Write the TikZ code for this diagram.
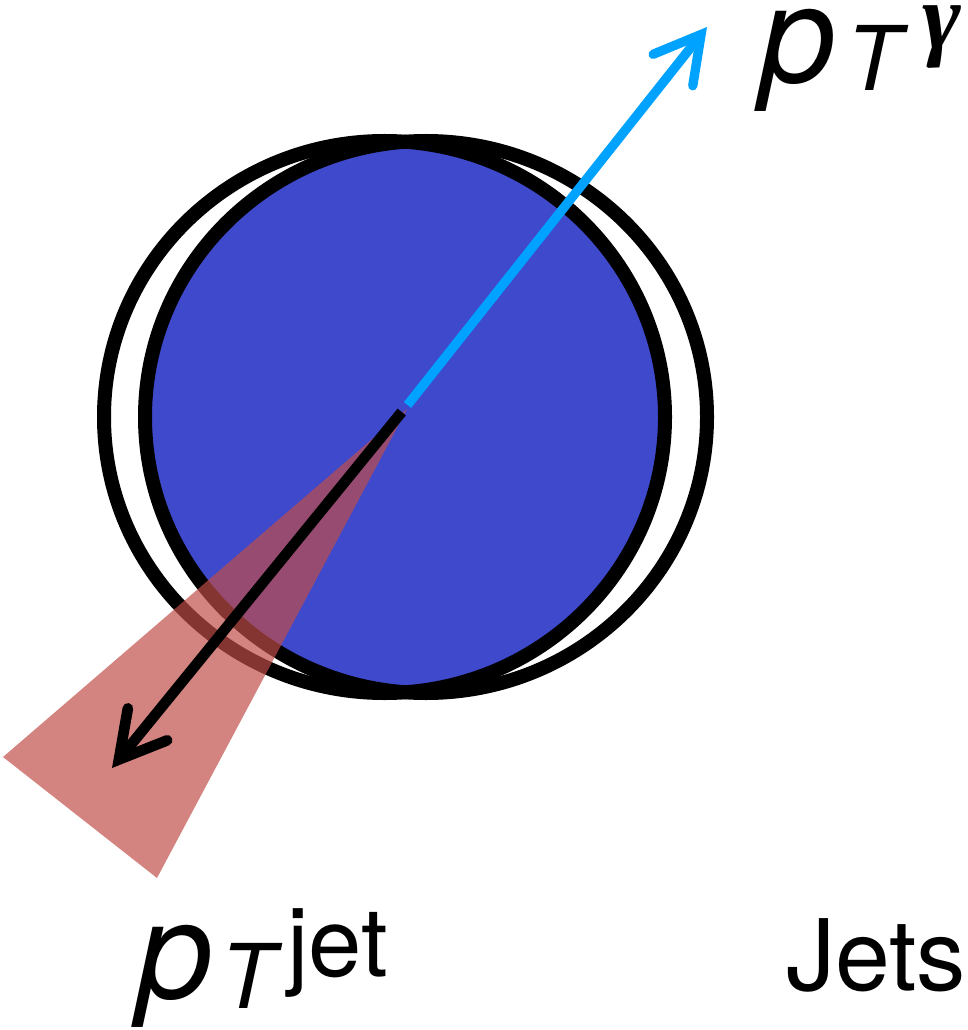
\documentclass[tikz,border=0pt]{standalone}
\usepackage{fontspec}
\setmainfont{TeX Gyre Heros}
\newfontfamily\gfont{Liberation Serif}
\usetikzlibrary{arrows.meta}
\definecolor{discblue}{RGB}{63,73,204}
\definecolor{photoncyan}{RGB}{0,162,255}
\definecolor{jetred}{RGB}{193,77,71}
\tikzset{
  ring/.style={draw=black, line width=10.5pt},
  barbtip/.style={-{Straight Barb[length=34pt,width=38pt,line cap=round,line join=miter]}},
  photon/.style={barbtip, draw=photoncyan, line width=7pt},
  jetarrow/.style={barbtip, draw=black, line width=8pt},
  cone/.style={fill=jetred, fill opacity=0.69},
  lbl/.style={anchor=base west, inner sep=0pt, outer sep=0pt}
}
\begin{document}
\begin{tikzpicture}[x=0.75pt, y=-0.75pt]
\useasboundingbox (0,0) rectangle (967,1030);
% disc: overlap of the two shifted rings
\begin{scope}
  \clip (384.5,417) ellipse [x radius=280.5, y radius=276];
  \fill[discblue] (426,417) ellipse [x radius=281, y radius=276];
\end{scope}
\draw[ring] (384.5,417) ellipse [x radius=280.5, y radius=276];
\draw[ring] (426,417) ellipse [x radius=281, y radius=276];
% jet cone
\coordinate (apex) at (407,409);
\coordinate (coneL) at (3,757);
\coordinate (coneB) at (157,878);
\fill[cone] (apex) -- (coneL) -- (coneB) -- cycle;
% arrows
\coordinate (gstart) at (407.5,405);
\coordinate (gtip) at (707,27);
\coordinate (jstart) at (401.7,412);
\coordinate (jtip) at (112,768);
\draw[photon] (gstart) -- (gtip);
\draw[jetarrow] (jstart) -- (jtip);
% labels
\node[lbl] (ptgamma) at (760,83) {\fontsize{102}{102}\selectfont\itshape p\hspace{8pt}\raisebox{-6pt}{\fontsize{67}{67}\selectfont T}\hspace{16pt}\raisebox{26pt}[0pt][0pt]{\fontsize{70}{70}\selectfont\gfont\bfseries\itshape γ}};
\node[lbl] (ptjet) at (137,998) {\fontsize{102}{102}\selectfont\itshape p\hspace{6pt}\raisebox{-7.5pt}{\fontsize{67}{67}\selectfont T}\hspace{9pt}\raisebox{16pt}{\fontsize{72}{72}\selectfont\upshape jet}};
\node[lbl] (jets) at (786,990) {\fontsize{74}{74}\selectfont Jets};
\end{tikzpicture}
\end{document}
